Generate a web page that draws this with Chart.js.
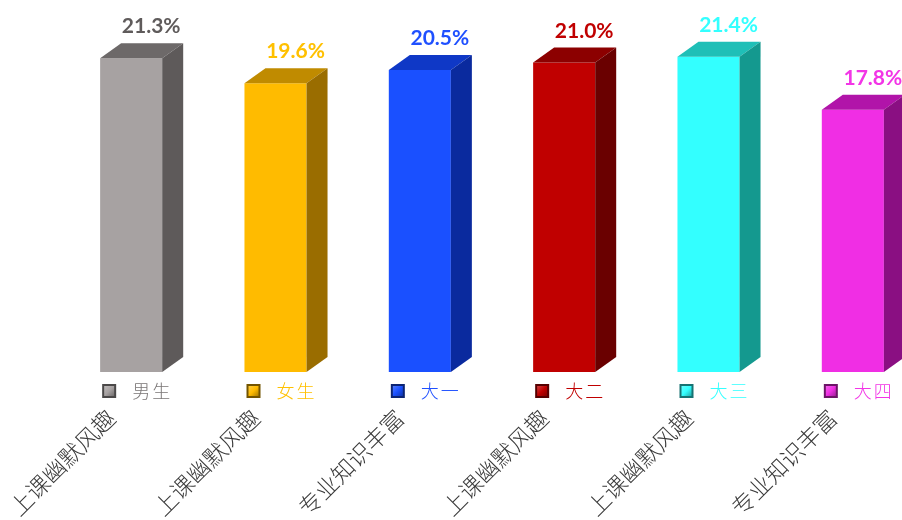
<!DOCTYPE html>
<html><head><meta charset="utf-8">
<script src="https://cdn.jsdelivr.net/npm/chart.js@4.4.1/dist/chart.umd.min.js"></script>
<style>
html,body{margin:0;padding:0;background:#fff;overflow:hidden;width:902px;height:520px}
#wrap{position:absolute;left:0;top:0;width:925px;height:520px}
</style>
</head><body><div id="wrap"><canvas id="c"></canvas></div>
<script>
const categories = ['上课幽默风趣','上课幽默风趣','专业知识丰富','上课幽默风趣','上课幽默风趣','专业知识丰富'];
const groups = ['男生','女生','大一','大二','大三','大四'];
const values = [21.3, 19.6, 20.5, 21.0, 21.4, 17.8];

const frontColors = ['#a7a2a2','#ffbb00','#1a50ff','#c00000','#33ffff','#f02ee4'];
const topColors   = ['#6d6969','#c08b00','#0f38c6','#8c0000','#1fbfb7','#b114a9'];
const sideColors  = ['#5e5a5a','#9a6d00','#0a2a9e','#6a0000','#14998f','#8a0f82'];
const labelColors = ['#5f5b5b','#ffc000','#1f50ff','#c00000','#33ffff','#f235e6'];
const groupColors = ['#7a7676','#ffc000','#1f50ff','#c00000','#33ffff','#f235e6'];

const DX = 21, DY = 15;

function shade(hex, f) {
  const n = parseInt(hex.slice(1), 16);
  let r = n >> 16, g = (n >> 8) & 255, b = n & 255;
  if (f >= 0) { r += (255 - r) * f; g += (255 - g) * f; b += (255 - b) * f; }
  else { r *= 1 + f; g *= 1 + f; b *= 1 + f; }
  return `rgb(${Math.round(r)},${Math.round(g)},${Math.round(b)})`;
}

const bar3d = {
  id: 'bar3d',
  afterDatasetsDraw(chart) {
    const ctx = chart.ctx;
    const meta = chart.getDatasetMeta(0);
    meta.data.forEach((el, i) => {
      const p = el.getProps(['x', 'y', 'base', 'width'], true);
      const l = p.x - p.width / 2, r = p.x + p.width / 2, y = p.y, base = p.base;
      ctx.save();
      ctx.fillStyle = topColors[i];
      ctx.beginPath();
      ctx.moveTo(l, y); ctx.lineTo(l + DX, y - DY); ctx.lineTo(r + DX, y - DY); ctx.lineTo(r, y);
      ctx.closePath(); ctx.fill();
      ctx.fillStyle = sideColors[i];
      ctx.beginPath();
      ctx.moveTo(r, y); ctx.lineTo(r + DX, y - DY); ctx.lineTo(r + DX, base - DY); ctx.lineTo(r, base);
      ctx.closePath(); ctx.fill();

      ctx.font = 'bold 21px Lato';
      ctx.fillStyle = labelColors[i];
      ctx.textAlign = 'center';
      ctx.textBaseline = 'alphabetic';
      ctx.fillText(values[i].toFixed(1) + '%', p.x + DX - 1, y - 25);

      // group marker
      const sx = p.x - 29, sy = base + 12, s = 14;
      const g = ctx.createLinearGradient(sx, sy, sx + s, sy + s);
      g.addColorStop(0, shade(frontColors[i], 0.35));
      g.addColorStop(0.5, frontColors[i]);
      g.addColorStop(1, shade(frontColors[i], -0.45));
      ctx.fillStyle = shade(frontColors[i], -0.55);
      ctx.fillRect(sx, sy, s, s);
      ctx.fillStyle = g;
      ctx.fillRect(sx + 2, sy + 2, s - 4, s - 4);

      ctx.font = '300 18px "Noto Sans CJK SC"';
      ctx.fillStyle = groupColors[i];
      ctx.textAlign = 'left';
      ctx.textBaseline = 'middle';
      const chars = Array.from(groups[i]);
      chars.forEach((c, k) => ctx.fillText(c, p.x + 1 + k * 20, base + 19));
      ctx.restore();
    });
  }
};

new Chart(document.getElementById('c'), {
  type: 'bar',
  data: {
    labels: categories,
    datasets: [{
      data: values,
      backgroundColor: frontColors,
      borderWidth: 0,
      barPercentage: 0.43,
      categoryPercentage: 1
    }]
  },
  options: {
    responsive: true,
    maintainAspectRatio: false,
    animation: false,
    devicePixelRatio: 1,
    layout: { padding: { left: 59, right: 0, top: 0, bottom: 0 } },
    plugins: { legend: { display: false }, tooltip: { enabled: false } },
    scales: {
      y: { display: false, min: 0, max: 25.25 },
      x: {
        offset: true,
        grid: { display: false, drawTicks: false },
        border: { display: false },
        ticks: {
          autoSkip: false,
          minRotation: 45,
          maxRotation: 45,
          padding: 32,
          labelOffset: -20,
          color: '#3a3a3a',
          font: { family: '"Noto Sans CJK SC"', size: 23, weight: '300' }
        },
        afterFit(axis) { axis.height = 148; axis.paddingLeft = 0; axis.paddingRight = 0; }
      }
    }
  },
  plugins: [bar3d]
});
</script>
</body></html>
